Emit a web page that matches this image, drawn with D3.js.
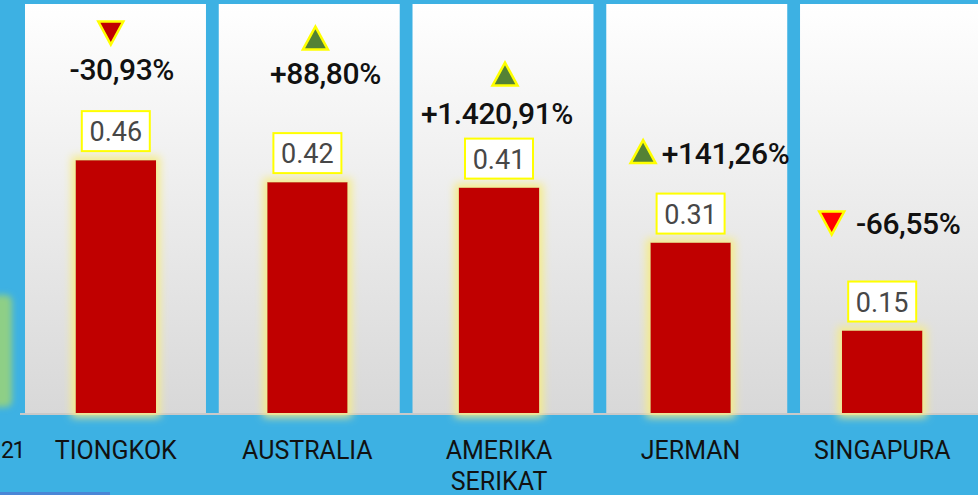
<!DOCTYPE html>
<html>
<head>
<meta charset="utf-8">
<script src="https://cdn.jsdelivr.net/npm/d3@7"></script>
<style>
  html, body { margin: 0; padding: 0; background: #3db1e3; overflow: hidden; }
  svg { display: block; font-family: Roboto, "DejaVu Sans", sans-serif; }
</style>
</head>
<body>
<div id="chart"></div>
<script>
// data
var categories = ['TIONGKOK', 'AUSTRALIA', 'AMERIKA SERIKAT', 'JERMAN', 'SINGAPURA']
var values = [0.46, 0.42, 0.41, 0.31, 0.15]
var changes = ['-30,93%', '+88,80%', '+1.420,91%', '+141,26%', '-66,55%']
var directions = ['down', 'up', 'up', 'up', 'down']

// where the change label sits, relative to bar centre / bar top
var changeLayout = [
  {tx: 6,  ty: -80, mx: -5,    my: -127},
  {tx: 18, ty: -98, mx: 8,     my: -144},
  {tx: -2, ty: -64, mx: 6,     my: -113.5},
  {tx: 35, ty: -79, mx: -47.5, my: -91},
  {tx: 26, ty: -97, mx: -50.5, my: -107.5}
]
var markerFill = ['#c00000', '#548235', '#548235', '#548235', '#ff0000']

var width = 978, height = 495
var base = 413

var svg = d3.select('#chart').append('svg')
    .attr('width', width)
    .attr('height', height)

var defs = svg.append('defs')
var grad = defs.append('linearGradient')
    .attr('id', 'panelGrad').attr('x1', 0).attr('y1', 0).attr('x2', 0).attr('y2', 1)
grad.append('stop').attr('offset', '0%').attr('stop-color', '#ffffff')
grad.append('stop').attr('offset', '100%').attr('stop-color', '#d8d8d8')

var glow = defs.append('filter').attr('id', 'glow')
    .attr('x', '-50%').attr('y', '-30%').attr('width', '200%').attr('height', '160%')
glow.append('feMorphology').attr('in', 'SourceAlpha').attr('operator', 'dilate').attr('radius', 4).attr('result', 'fat')
glow.append('feGaussianBlur').attr('in', 'fat').attr('stdDeviation', 4).attr('result', 'soft')
glow.append('feFlood').attr('flood-color', '#f5ec8a')
glow.append('feComposite').attr('in2', 'soft').attr('operator', 'in').attr('result', 'halo')
var merge = glow.append('feMerge')
merge.append('feMergeNode').attr('in', 'halo')
merge.append('feMergeNode').attr('in', 'SourceGraphic')

var blur = defs.append('filter').attr('id', 'blur')
    .attr('x', '-50%').attr('y', '-20%').attr('width', '200%').attr('height', '140%')
blur.append('feGaussianBlur').attr('stdDeviation', 3)

// leftovers of the neighbouring chart on the left edge
svg.append('rect')
    .attr('x', -20).attr('y', 295).attr('width', 32).attr('height', 112)
    .attr('rx', 6)
    .attr('fill', '#8ecf86')
    .attr('filter', 'url(#blur)')
svg.append('text')
    .attr('x', 1).attr('y', 458)
    .attr('font-size', 23)
    .attr('letter-spacing', -1.5)
    .attr('fill', '#111')
    .text('21')
svg.append('rect')
    .attr('x', 0).attr('y', 492).attr('width', 110).attr('height', 3)
    .attr('fill', '#4a86d6')

var x = d3.scaleBand()
    .domain(categories)
    .range([20, 978])
    .paddingInner(0.58)
    .paddingOuter(0.29)

var xPanel = d3.scaleBand()
    .domain(categories)
    .range([25, 981])
    .paddingInner(0.066)

var y = d3.scaleLinear()
    .domain([0, 0.744])
    .range([base, 4])

// panels
svg.selectAll('.panel')
    .data(categories)
  .enter().append('rect')
    .attr('class', 'panel')
    .attr('x', function(d){ return xPanel(d) })
    .attr('y', 4)
    .attr('width', xPanel.bandwidth())
    .attr('height', base - 4)
    .attr('fill', 'url(#panelGrad)')

// baseline
svg.append('rect')
    .attr('x', 20).attr('y', base).attr('width', width - 20).attr('height', 2)
    .attr('fill', '#c9c9c9')

var cx = function(i){ return x(categories[i]) + x.bandwidth() / 2 }

// bars
svg.selectAll('.bar')
    .data(values)
  .enter().append('rect')
    .attr('class', 'bar')
    .attr('x', function(d, i){ return x(categories[i]) })
    .attr('y', function(d){ return y(d) })
    .attr('width', x.bandwidth())
    .attr('height', function(d){ return base - y(d) })
    .attr('fill', '#c00000')
    .attr('filter', 'url(#glow)')

// value boxes
var vb = svg.selectAll('.vbox')
    .data(values)
  .enter().append('g')
    .attr('class', 'vbox')
    .attr('transform', function(d, i){ return 'translate(' + cx(i) + ',' + (y(d) - 8) + ')' })
vb.append('rect')
    .attr('x', -34).attr('y', -41).attr('width', 68).attr('height', 40)
    .attr('fill', '#fff')
    .attr('stroke', '#ffff00')
    .attr('stroke-width', 2)
vb.append('text')
    .attr('y', -11)
    .attr('text-anchor', 'middle')
    .attr('font-size', 27)
    .attr('fill', '#474747')
    .text(function(d){ return d.toFixed(2) })

// change labels with markers
var cg = svg.selectAll('.change')
    .data(changes)
  .enter().append('g')
    .attr('class', 'change')
    .attr('transform', function(d, i){ return 'translate(' + cx(i) + ',' + y(values[i]) + ')' })

cg.append('text')
    .attr('x', function(d, i){ return changeLayout[i].tx })
    .attr('y', function(d, i){ return changeLayout[i].ty })
    .attr('text-anchor', 'middle')
    .attr('font-size', 30)
    .attr('font-weight', 500)
    .attr('letter-spacing', -0.4)
    .attr('fill', '#111')
    .text(function(d){ return d })

var tri = function(dir){
  var w = 25, h = 23
  return dir == 'up'
    ? 'M0,' + (-h/2) + 'L' + (w/2) + ',' + (h/2) + 'L' + (-w/2) + ',' + (h/2) + 'Z'
    : 'M0,' + (h/2) + 'L' + (w/2) + ',' + (-h/2) + 'L' + (-w/2) + ',' + (-h/2) + 'Z'
}
cg.append('path')
    .attr('transform', function(d, i){ return 'translate(' + changeLayout[i].mx + ',' + changeLayout[i].my + ')' })
    .attr('d', function(d, i){ return tri(directions[i]) })
    .attr('fill', function(d, i){ return markerFill[i] })
    .attr('stroke', '#ffff00')
    .attr('stroke-width', 2.5)

// category labels
var lab = svg.selectAll('.cat')
    .data(categories)
  .enter().append('text')
    .attr('class', 'cat')
    .attr('text-anchor', 'middle')
    .attr('font-size', 25)
    .attr('fill', '#111')
    .attr('transform', function(d){ return 'translate(' + (x(d) + x.bandwidth() / 2) + ',459)' })
lab.each(function(d){
  var words = d.split(' ')
  var t = d3.select(this)
  words.forEach(function(w, k){
    t.append('tspan').attr('x', 0).attr('dy', k ? 31 : 0).text(w)
  })
})
</script>
</body>
</html>
